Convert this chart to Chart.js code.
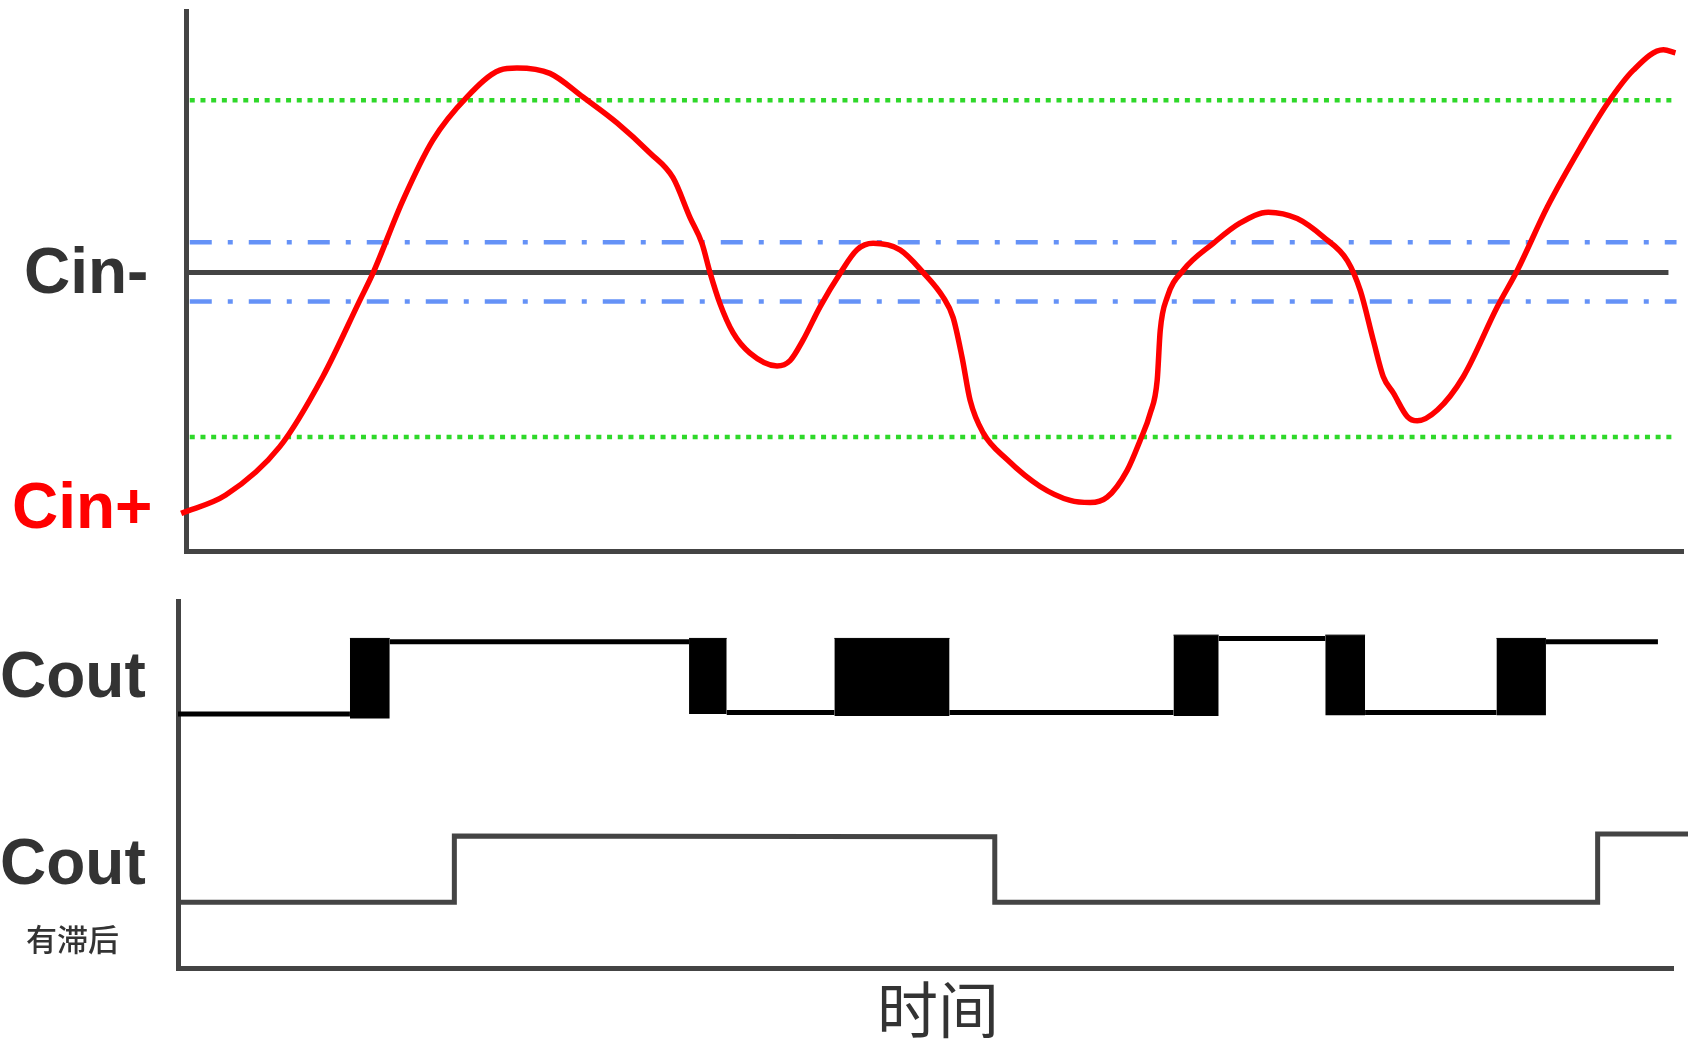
<!DOCTYPE html>
<html>
<head>
<meta charset="utf-8">
<script src="https://cdn.jsdelivr.net/npm/chart.js@4.4.1/dist/chart.umd.min.js"></script>
<style>
  html, body { margin:0; padding:0; background:#fff; width:1688px; height:1039px; overflow:hidden; }
  canvas { position:absolute; left:0; top:0; }
  .lbl { position:absolute; font-family:"Liberation Sans", Arial, sans-serif; font-weight:bold; line-height:1; white-space:nowrap; font-size:64px; color:#333; }
  .cjk { position:absolute; font-family:"Noto Sans CJK SC", sans-serif; line-height:1; white-space:nowrap; color:#333; }
</style>
</head>
<body>
<canvas id="top" width="1688" height="1039"></canvas>
<canvas id="bottom" width="1688" height="1039"></canvas>
<div class="lbl" style="left:24px; top:239px;">Cin-</div>
<div class="lbl" style="left:12px; top:474px; color:#ff0000;">Cin+</div>
<div class="lbl" style="left:0px; top:643px;">Cout</div>
<div class="lbl" style="left:0px; top:830px;">Cout</div>
<div class="cjk" style="left:26px; top:922px; font-size:31px; font-weight:500;">有滞后</div>
<div class="cjk" style="left:938px; top:976px; font-size:61px; transform:translateX(-50%);">时间</div>
<script>
// ---- Data (time in arbitrary units, voltage in arbitrary units) ----
const timeCinPlus = [-0.45, 3.69, 8.71, 12.70, 16.14, 17.35, 20.14, 22.92, 26.08, 29.15, 30.73, 33.79, 36.86, 40.02, 43.08, 45.22, 46.80, 47.91, 48.65, 49.58, 50.79, 52.37, 54.88, 56.09, 57.29, 58.87, 60.73, 62.31, 63.80, 66.30, 68.44, 70.30, 71.23, 72.06, 72.81, 74.01, 76.24, 79.31, 82.10, 83.95, 85.53, 87.39, 88.60, 89.53, 90.18, 90.46, 91.11, 92.60, 95.38, 97.89, 100.49, 103.18, 105.60, 107.83, 109.04, 110.24, 111.17, 112.10, 113.40, 114.33, 116.19, 118.60, 121.76, 123.62, 126.41, 129.47, 131.98, 134.39, 137.18, 138.30];
const cinPlus = [0.35, 0.52, 0.97, 1.62, 2.33, 2.58, 3.26, 3.82, 4.22, 4.47, 4.49, 4.44, 4.22, 3.98, 3.70, 3.47, 3.10, 2.86, 2.59, 2.30, 2.03, 1.84, 1.72, 1.77, 1.96, 2.27, 2.58, 2.80, 2.86, 2.80, 2.59, 2.36, 2.17, 1.80, 1.40, 1.10, 0.85, 0.60, 0.47, 0.45, 0.50, 0.75, 1.03, 1.28, 1.59, 2.05, 2.36, 2.61, 2.86, 3.05, 3.15, 3.09, 2.92, 2.70, 2.42, 1.96, 1.62, 1.47, 1.25, 1.21, 1.31, 1.62, 2.27, 2.61, 3.20, 3.75, 4.16, 4.47, 4.66, 4.63];

const cinMinusLevel = 2.59;
const cinMinusSpan = [0, 137.65];
const noiseBand = [2.32, 2.87];      // blue dash-dot lines
const hystBand = [1.06, 4.19];       // green dotted lines
const bandSpan = [0.35, 138.4];

// Cout without hysteresis: steady segments and chattering bursts
const segStart = [-0.77, 18.9, 50.2, 70.9, 95.9, 109.5, 126.3];
const segEnd   = [15.2, 46.7, 60.2, 91.7, 105.8, 121.7, 136.7];
const segLevel = [3.87, 4.97, 3.89, 3.89, 5.02, 3.89, 4.97];
const burstStart = [15.2, 46.7, 60.2, 91.7, 105.8, 121.7];
const burstEnd   = [18.9, 50.2, 70.9, 95.9, 109.5, 126.3];
const burstLow   = [3.80, 3.87, 3.84, 3.84, 3.85, 3.85];
const burstHigh  = [5.02, 5.02, 5.02, 5.07, 5.07, 5.02];

// Cout with hysteresis
const hystT = [-0.77, 24.9, 24.9, 75.1, 75.1, 131.1, 131.1, 139.5];
const hystV = [1.00, 1.00, 2.01, 2.00, 1.00, 1.00, 2.04, 2.04];

// ---- Helpers ----
const axisColor = '#444444';
function hiddenAxis(min, max) {
  return {
    type: 'linear', min, max, display: true,
    ticks: { display: false },
    grid: { display: false, drawTicks: false, tickLength: 0 },
    border: { display: true, width: 5, color: axisColor }
  };
}
function fitArea(chart, want) {
  const a = chart.chartArea;
  const p = chart.options.layout.padding;
  p.left += want.left - a.left;
  p.top += want.top - a.top;
  p.right += a.right - want.right;
  p.bottom += a.bottom - want.bottom;
  chart.update('none');
}
const flat = (span, level) => [{x: span[0], y: level}, {x: span[1], y: level}];

// ---- Top chart ----
const green = '#2fd82a';
const blue = '#6592f7';
const topChart = new Chart(document.getElementById('top'), {
  type: 'line',
  data: {
    datasets: [
      { data: timeCinPlus.map((t, i) => ({x: t, y: cinPlus[i]})), borderColor: '#ff0000', borderWidth: 5.5, tension: 0.4, cubicInterpolationMode: 'monotone', pointRadius: 0, fill: false, clip: false },
      { data: flat(cinMinusSpan, cinMinusLevel), borderColor: axisColor, borderWidth: 5, pointRadius: 0, borderCapStyle: 'butt' },
      { data: flat(bandSpan, noiseBand[1]), borderColor: blue, borderWidth: 4.5, borderDash: [22, 16, 5, 16], pointRadius: 0, borderCapStyle: 'butt' },
      { data: flat(bandSpan, noiseBand[0]), borderColor: blue, borderWidth: 4.5, borderDash: [22, 16, 5, 16], pointRadius: 0, borderCapStyle: 'butt' },
      { data: flat(bandSpan, hystBand[1]), borderColor: green, borderWidth: 4.5, borderDash: [5, 5.7], pointRadius: 0, borderCapStyle: 'butt' },
      { data: flat(bandSpan, hystBand[0]), borderColor: green, borderWidth: 4.5, borderDash: [5, 5.7], pointRadius: 0, borderCapStyle: 'butt' }
    ]
  },
  options: {
    responsive: false, animation: false, devicePixelRatio: 1,
    layout: { padding: { left: 186, top: 11, right: 5, bottom: 488 } },
    plugins: { legend: { display: false }, tooltip: { enabled: false } },
    scales: { x: hiddenAxis(0, 139), y: hiddenAxis(0, 5.02) },
    events: []
  }
});
fitArea(topChart, { left: 186, top: 11, right: 1683, bottom: 551 });

// ---- Bottom chart ----
const bottomSets = [];
const segData = [];
segStart.forEach((s, i) => {
  segData.push({x: s, y: segLevel[i]}, {x: segEnd[i], y: segLevel[i]}, {x: segEnd[i], y: null});
});
bottomSets.push({ data: hystT.map((t, i) => ({x: t, y: hystV[i]})), borderColor: axisColor, borderWidth: 5, pointRadius: 0, borderJoinStyle: 'miter', borderCapStyle: 'butt', clip: false });
bottomSets.push({ data: segData, borderColor: '#000000', borderWidth: 5, pointRadius: 0, spanGaps: false, borderCapStyle: 'butt' });
burstStart.forEach((s, i) => {
  bottomSets.push({
    data: [{x: s, y: burstHigh[i]}, {x: burstEnd[i], y: burstHigh[i]}],
    borderColor: '#000000', borderWidth: 1, pointRadius: 0,
    backgroundColor: '#000000', fill: { value: burstLow[i] }
  });
});
const bottomChart = new Chart(document.getElementById('bottom'), {
  type: 'line',
  data: { datasets: bottomSets },
  options: {
    responsive: false, animation: false, devicePixelRatio: 1,
    layout: { padding: { left: 178, top: 601, right: 15, bottom: 71 } },
    plugins: { legend: { display: false }, tooltip: { enabled: false } },
    scales: { x: hiddenAxis(-0.77, 138.1), y: hiddenAxis(0, 5.59) },
    events: []
  }
});
fitArea(bottomChart, { left: 178, top: 601, right: 1673, bottom: 968 });
</script>
</body>
</html>
